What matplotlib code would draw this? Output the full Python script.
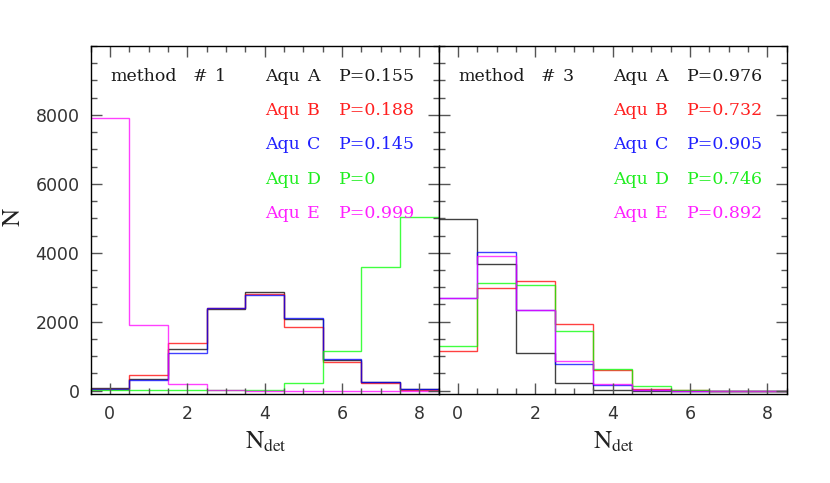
import matplotlib
matplotlib.use("Agg")
import matplotlib.pyplot as plt
from matplotlib.ticker import MultipleLocator, FixedLocator
import numpy as np

plt.rcParams['mathtext.fontset'] = 'stix'

# ---- data ----
bin_edges = [-0.5, 0.5, 1.5, 2.5, 3.5, 4.5, 5.5, 6.5, 7.5, 8.5]
halo_letters = ["A", "B", "C", "D", "E"]
colors = ["#000000", "#ff0000", "#0000ff", "#00ff00", "#ff00ff"]
text_colors = ["#1a1a1a", "#ff2020", "#2020ff", "#20ee20", "#ff20ff"]
y_major_ticks = [0, 2000, 4000, 6000, 8000]

m1_A = [60, 340, 1195, 2365, 2850, 2065, 885, 260, 40]
m1_B = [50, 450, 1390, 2405, 2790, 1855, 820, 210, 15]
m1_C = [55, 305, 1080, 2405, 2765, 2115, 925, 260, 40]
m1_D = [15, 10, 10, 10, 20, 210, 1140, 3575, 5030]
m1_E = [7900, 1900, 190, 20, 0, 0, 0, 0, 0]
m1_P = ["P=0.155", "P=0.188", "P=0.145", "P=0", "P=0.999"]

m3_A = [4970, 3672, 1080, 210, 15, 0, 0, 0, 0]
m3_B = [1140, 2985, 3180, 1922, 597, 40, 15, 0, 0]
m3_C = [2695, 4010, 2337, 760, 150, 10, 0, 0, 0]
m3_D = [1293, 3112, 3054, 1737, 617, 140, 20, 0, 0]
m3_E = [2680, 3895, 2337, 857, 190, 5, 0, 0, 0]
m3_P = ["P=0.976", "P=0.732", "P=0.905", "P=0.746", "P=0.892"]

panels = [
    ("1", [m1_A, m1_B, m1_C, m1_D, m1_E], m1_P),
    ("3", [m3_A, m3_B, m3_C, m3_D, m3_E], m3_P),
]

fig = plt.figure(figsize=(8.3, 4.83), dpi=100)
W, H = 830.0, 483.0
ax_bottom = 1 - 394 / H
ax_height = (394 - 46) / H
lefts = [90.5, 438.5]
width = 348.0
fs = 12.5
tkw = dict(ha='left', va='baseline', fontsize=fs, family='DejaVu Serif')

for i, (num, series, pvals) in enumerate(panels):
    ax = fig.add_axes([lefts[i] / W, ax_bottom, width / W, ax_height])
    for vals, c in zip(series, colors):
        ax.stairs(vals, bin_edges, baseline=None, color=c, lw=1.0, alpha=0.75)
    ax.set_xlim(-0.5, 8.5)
    ax.set_ylim(-100, 10000)
    ax.xaxis.set_major_locator(MultipleLocator(2))
    ax.xaxis.set_minor_locator(MultipleLocator(0.5))
    ax.yaxis.set_major_locator(FixedLocator(y_major_ticks))
    ax.yaxis.set_minor_locator(MultipleLocator(500))
    ax.tick_params(which='both', direction='in', top=True, right=True,
                   color='#555555', width=1.0, labelsize=12.5, labelcolor='#333333')
    ax.tick_params(which='major', length=8, pad=8)
    ax.tick_params(which='minor', length=4.3)
    if i == 1:
        ax.tick_params(labelleft=False)
    for s in ax.spines.values():
        s.set_color('black')
        s.set_linewidth(1.0)

    yb = 0.9003
    ax.text(20 / width, yb, "method", transform=ax.transAxes, color='#1a1a1a', **tkw)
    ax.text(102 / width, yb, "#", transform=ax.transAxes, color='#1a1a1a', **tkw)
    ax.text(124 / width, yb, num, transform=ax.transAxes, color='#1a1a1a', **tkw)
    for k in range(5):
        y = yb - k * 0.0988
        ax.text(175 / width, y, "Aqu", transform=ax.transAxes,
                color=text_colors[k], **tkw)
        ax.text(216.5 / width, y, halo_letters[k], transform=ax.transAxes,
                color=text_colors[k], **tkw)
        ax.text(248.5 / width, y, pvals[k], transform=ax.transAxes,
                color=text_colors[k], **tkw)

    cx = (lefts[i] + width / 2 + 1) / W
    fig.text(cx, 1 - 449 / H, r'$\mathrm{N}_{\mathrm{det}}$', ha='center',
             va='baseline', fontsize=18, color='#222222')

fig.text(13 / W, 1 - 217 / H, r'$\mathrm{N}$', rotation=90, ha='center',
         va='center', fontsize=18, color='#222222')

fig.savefig("out.png", dpi=100)
